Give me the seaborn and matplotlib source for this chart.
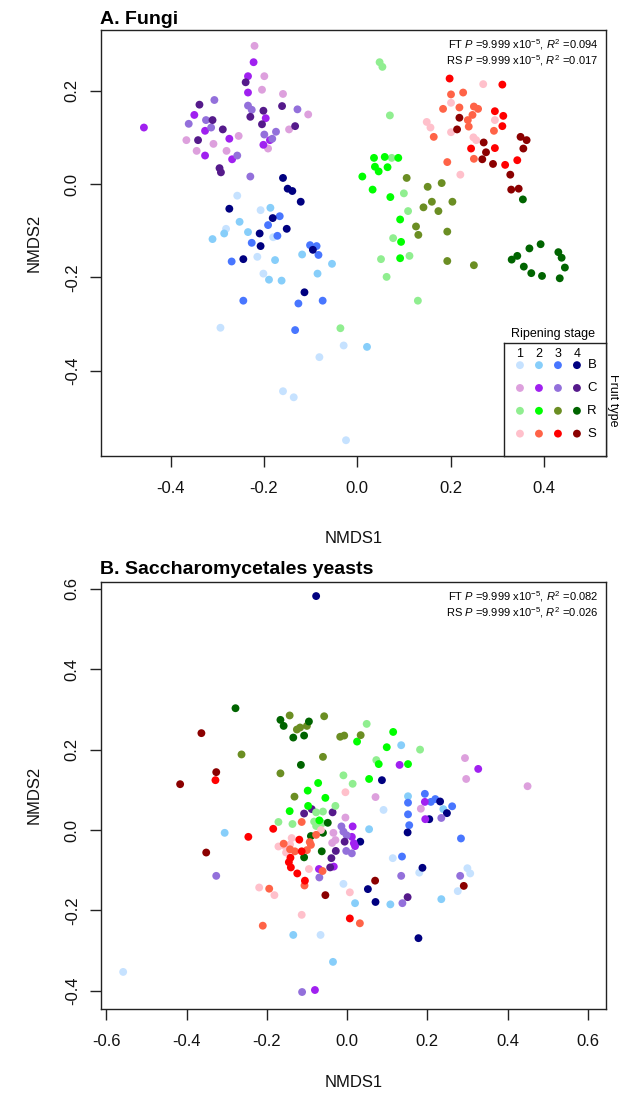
import matplotlib
matplotlib.use("Agg")
import matplotlib.pyplot as plt
import seaborn as sns
import pandas as pd

plt.rcParams['font.family'] = ['Liberation Sans', 'DejaVu Sans']
plt.rcParams['mathtext.fontset'] = 'custom'
plt.rcParams['mathtext.rm'] = 'Liberation Sans'
plt.rcParams['mathtext.it'] = 'Liberation Sans:italic'
plt.rcParams['axes.unicode_minus'] = False

fruit_types = ['B', 'C', 'R', 'S']
stages = [1, 2, 3, 4]
palette_colors = {
    'B': ['#C6E2FF', '#87CEFA', '#4876FF', '#000080'],
    'C': ['#DDA0DD', '#A020F0', '#9370DB', '#551A8B'],
    'R': ['#90EE90', '#00FF00', '#6B8E23', '#006400'],
    'S': ['#FFC0CB', '#FF6347', '#FF0000', '#8B0000'],
}

# ---------------- Panel A: Fungi ----------------
fungi_B1_x = [-0.257, -0.207, -0.281, -0.180, -0.214, -0.201, -0.293, -0.029, -0.081, -0.159, -0.136, -0.024]
fungi_B1_y = [-0.025, -0.056, -0.096, -0.114, -0.156, -0.192, -0.308, -0.346, -0.371, -0.444, -0.457, -0.549]
fungi_B2_x = [-0.186, -0.252, -0.285, -0.310, -0.234, -0.176, -0.118, -0.054, -0.085, -0.189, -0.162, 0.021]
fungi_B2_y = [-0.051, -0.081, -0.106, -0.118, -0.103, -0.163, -0.151, -0.171, -0.192, -0.205, -0.207, -0.349]
fungi_B3_x = [-0.166, -0.191, -0.171, -0.226, -0.269, -0.101, -0.087, -0.083, -0.244, -0.126, -0.074, -0.133]
fungi_B3_y = [-0.069, -0.088, -0.111, -0.126, -0.166, -0.131, -0.133, -0.152, -0.250, -0.256, -0.250, -0.313]
fungi_B4_x = [-0.159, -0.149, -0.139, -0.121, -0.274, -0.181, -0.151, -0.209, -0.207, -0.244, -0.095, -0.113]
fungi_B4_y = [0.013, -0.010, -0.015, -0.038, -0.053, -0.073, -0.096, -0.106, -0.133, -0.161, -0.141, -0.232]
fungi_C1_x = [-0.220, -0.199, -0.204, -0.159, -0.105, -0.146, -0.191, -0.366, -0.308, -0.254, -0.344, -0.280]
fungi_C1_y = [0.296, 0.231, 0.202, 0.193, 0.149, 0.117, 0.076, 0.094, 0.086, 0.103, 0.071, 0.071]
fungi_C2_x = [-0.222, -0.234, -0.234, -0.349, -0.326, -0.457, -0.196, -0.187, -0.201, -0.274, -0.326, -0.268]
fungi_C2_y = [0.261, 0.231, 0.196, 0.148, 0.114, 0.121, 0.141, 0.094, 0.084, 0.097, 0.061, 0.053]
fungi_C3_x = [-0.306, -0.324, -0.361, -0.313, -0.234, -0.226, -0.128, -0.174, -0.199, -0.182, -0.257, -0.229]
fungi_C3_y = [0.180, 0.137, 0.129, 0.121, 0.168, 0.159, 0.160, 0.112, 0.106, 0.097, 0.061, 0.016]
fungi_C4_x = [-0.239, -0.338, -0.310, -0.288, -0.201, -0.161, -0.229, -0.204, -0.133, -0.341, -0.295, -0.292]
fungi_C4_y = [0.218, 0.170, 0.137, 0.117, 0.157, 0.167, 0.144, 0.128, 0.124, 0.094, 0.034, 0.025]
fungi_R1_x = [0.048, 0.054, 0.070, 0.074, 0.100, 0.109, 0.077, 0.112, 0.051, 0.063, 0.130, -0.036]
fungi_R1_y = [0.261, 0.251, 0.147, 0.056, -0.020, -0.058, -0.116, -0.154, -0.161, -0.199, -0.250, -0.309]
fungi_R2_x = [0.036, 0.059, 0.088, 0.038, 0.046, 0.065, 0.011, 0.033, 0.071, 0.092, 0.094, 0.092]
fungi_R2_y = [0.056, 0.058, 0.056, 0.037, 0.027, 0.036, 0.016, -0.012, -0.028, -0.076, -0.124, -0.159]
fungi_R3_x = [0.106, 0.151, 0.181, 0.160, 0.142, 0.174, 0.204, 0.126, 0.131, 0.193, 0.193, 0.250]
fungi_R3_y = [0.013, -0.006, 0.002, -0.038, -0.050, -0.058, -0.038, -0.091, -0.109, -0.102, -0.165, -0.174]
fungi_R4_x = [0.355, 0.331, 0.343, 0.369, 0.393, 0.431, 0.438, 0.445, 0.357, 0.373, 0.396, 0.434]
fungi_R4_y = [-0.033, -0.162, -0.154, -0.138, -0.129, -0.146, -0.158, -0.179, -0.177, -0.191, -0.197, -0.202]
fungi_S1_x = [0.270, 0.201, 0.295, 0.149, 0.157, 0.201, 0.249, 0.255, 0.221]
fungi_S1_y = [0.214, 0.174, 0.137, 0.133, 0.121, 0.111, 0.100, 0.094, 0.020]
fungi_S2_x = [0.201, 0.227, 0.184, 0.219, 0.250, 0.259, 0.247, 0.237, 0.239, 0.293, 0.164, 0.250, 0.193]
fungi_S2_y = [0.192, 0.196, 0.161, 0.164, 0.166, 0.161, 0.148, 0.137, 0.123, 0.114, 0.101, 0.054, 0.047]
fungi_S3_x = [0.198, 0.311, 0.295, 0.313, 0.311, 0.244, 0.295, 0.317, 0.343]
fungi_S3_y = [0.226, 0.213, 0.156, 0.146, 0.124, 0.076, 0.077, 0.041, 0.051]
fungi_S4_x = [0.219, 0.214, 0.271, 0.276, 0.268, 0.291, 0.350, 0.363, 0.356, 0.328, 0.330, 0.346]
fungi_S4_y = [0.142, 0.117, 0.089, 0.068, 0.053, 0.043, 0.101, 0.094, 0.076, 0.020, -0.012, -0.010]

# ---------------- Panel B: Saccharomycetales yeasts ----------------
yeast_B1_x = [-0.558, -0.066, -0.009, 0.091, 0.114, 0.180, 0.300, 0.307, 0.276]
yeast_B1_y = [-0.353, -0.261, -0.134, 0.050, -0.070, -0.106, -0.095, -0.108, -0.152]
yeast_B2_x = [-0.305, 0.020, -0.134, 0.135, 0.152, 0.240, 0.055, 0.235, 0.108, -0.035]
yeast_B2_y = [-0.007, -0.182, -0.261, 0.211, 0.084, 0.052, 0.002, -0.172, -0.185, -0.328]
yeast_B3_x = [0.194, 0.152, 0.209, 0.220, 0.262, 0.152, 0.155, 0.284, 0.137]
yeast_B3_y = [0.090, 0.068, 0.070, 0.077, 0.059, 0.039, 0.012, -0.021, -0.066]
yeast_B4_x = [-0.077, 0.087, 0.232, 0.249, 0.205, 0.151, 0.033, 0.188, 0.052, 0.071, 0.178]
yeast_B4_y = [0.582, 0.124, 0.071, 0.042, 0.027, -0.006, -0.029, -0.094, -0.147, -0.179, -0.269]
yeast_C1_x = [0.294, 0.297, 0.450, 0.071, 0.184, -0.004, -0.034, -0.029, -0.037]
yeast_C1_y = [0.179, 0.127, 0.109, 0.082, 0.053, 0.031, -0.007, -0.025, -0.032]
yeast_C2_x = [0.131, 0.327, 0.194, 0.195, 0.014, 0.012, 0.017, 0.020, -0.070, -0.033, -0.080]
yeast_C2_y = [0.162, 0.152, 0.070, 0.027, 0.009, -0.017, -0.033, -0.040, -0.097, -0.091, -0.398]
yeast_C3_x = [-0.326, -0.014, -0.009, -0.001, -0.002, 0.012, -0.069, 0.235, 0.135, 0.282, 0.138, -0.112]
yeast_C3_y = [-0.114, 0.009, -0.004, -0.013, -0.052, -0.058, -0.118, 0.030, -0.114, -0.114, -0.182, -0.403]
yeast_C4_x = [-0.107, -0.088, -0.036, -0.006, -0.028, -0.039, -0.042, 0.151]
yeast_C4_y = [0.041, 0.052, 0.044, -0.029, -0.052, -0.070, -0.093, -0.167]
yeast_R1_x = [0.049, 0.182, 0.073, -0.009, 0.014, -0.029, -0.077, -0.060, -0.171, -0.136, -0.082, -0.077, -0.062]
yeast_R1_y = [0.264, 0.200, 0.174, 0.136, 0.115, 0.060, 0.044, 0.046, 0.020, 0.015, 0.021, 0.010, 0.017]
yeast_R2_x = [0.025, 0.115, 0.099, 0.079, 0.152, 0.055, -0.072, -0.098, -0.054, -0.143, -0.097, -0.069]
yeast_R2_y = [0.220, 0.244, 0.206, 0.164, 0.164, 0.127, 0.117, 0.098, 0.080, 0.047, 0.060, 0.024]
yeast_R3_x = [-0.143, -0.125, -0.117, -0.100, -0.057, -0.017, -0.007, 0.034, -0.263, -0.060, -0.166, -0.131]
yeast_R3_y = [0.285, 0.250, 0.255, 0.259, 0.283, 0.232, 0.235, 0.236, 0.188, 0.182, 0.141, 0.083]
yeast_R4_x = [-0.278, -0.166, -0.158, -0.095, -0.134, -0.107, -0.115, -0.048, -0.090, -0.060, -0.063, -0.107]
yeast_R4_y = [0.303, 0.274, 0.259, 0.270, 0.230, 0.235, 0.162, 0.018, -0.015, -0.007, -0.053, -0.068]
yeast_S1_x = [-0.004, -0.065, -0.138, -0.171, -0.155, -0.142, -0.152, -0.095, -0.219, -0.181, 0.007, -0.113]
yeast_S1_y = [0.094, 0.000, -0.020, -0.041, -0.040, -0.036, -0.056, -0.097, -0.143, -0.162, -0.155, -0.211]
yeast_S2_x = [-0.113, -0.077, -0.158, -0.093, -0.090, -0.100, -0.142, -0.130, -0.061, -0.106, -0.194, -0.210, 0.032]
yeast_S2_y = [0.020, -0.012, -0.034, -0.030, -0.037, -0.050, -0.048, -0.053, -0.102, -0.138, -0.146, -0.238, -0.232]
yeast_S3_x = [-0.328, -0.246, -0.184, -0.119, -0.113, -0.141, -0.145, -0.140, -0.124, -0.105, 0.007]
yeast_S3_y = [0.124, -0.017, 0.003, -0.024, -0.053, -0.069, -0.080, -0.093, -0.108, -0.126, -0.220]
yeast_S4_x = [-0.363, -0.326, -0.416, -0.351, -0.054, 0.070, 0.291]
yeast_S4_y = [0.241, 0.144, 0.114, -0.056, -0.162, -0.126, -0.139]

fungi_ticks_x = [-0.4, -0.2, 0.0, 0.2, 0.4]
fungi_ticks_y = [-0.4, -0.2, 0.0, 0.2]
yeast_ticks_x = [-0.6, -0.4, -0.2, 0.0, 0.2, 0.4, 0.6]
yeast_ticks_y = [-0.4, -0.2, 0.0, 0.2, 0.4, 0.6]

fungi_stats = ["FT $P$ =9.999 x10$^{-5}$, $R^2$ =0.094",
               "RS $P$ =9.999 x10$^{-5}$, $R^2$ =0.017"]
yeast_stats = ["FT $P$ =9.999 x10$^{-5}$, $R^2$ =0.082",
               "RS $P$ =9.999 x10$^{-5}$, $R^2$ =0.026"]

g = globals()


def build_df(prefix):
    rows = []
    for ft in fruit_types:
        for st in stages:
            xs = g[f"{prefix}_{ft}{st}_x"]
            ys = g[f"{prefix}_{ft}{st}_y"]
            for x, y in zip(xs, ys):
                rows.append({'NMDS1': x, 'NMDS2': y, 'group': f"{ft}{st}"})
    return pd.DataFrame(rows)


palette = {f"{ft}{st}": palette_colors[ft][st - 1] for ft in fruit_types for st in stages}

W, H = 619, 1096
fig = plt.figure(figsize=(W / 100, H / 100), dpi=100)


def fx(px):
    return px / W


def fy(py):
    return 1 - py / H


def style_axes(ax, xt, yt, xlabelpad):
    ax.set_xticks(xt)
    ax.set_yticks(yt)
    ax.set_xticklabels([f"{t:.1f}" for t in xt])
    ax.set_yticklabels([f"{t:.1f}" for t in yt], rotation=90, va='center')
    ax.tick_params(direction='out', length=8, width=1, colors='#222222',
                   labelsize=12, labelcolor='#111111')
    ax.tick_params(axis='x', pad=10)
    ax.tick_params(axis='y', pad=7)
    for sp in ax.spines.values():
        sp.set_color('#222222')
        sp.set_linewidth(1.0)
    ax.set_xlabel('NMDS1', fontsize=12, labelpad=xlabelpad, color='#111111')
    ax.set_ylabel('NMDS2', fontsize=12, labelpad=17, color='#111111')


def add_stats(ax, lines):
    ax.text(0.985, 0.966, lines[0], transform=ax.transAxes, ha='right', va='center', fontsize=8)
    ax.text(0.985, 0.929, lines[1], transform=ax.transAxes, ha='right', va='center', fontsize=8)


left, right = 100.7, 606.0

# Panel A
axA = fig.add_axes([fx(left), fy(456), fx(right - left), (456 - 30) / H])
dfA = build_df('fungi')
sns.scatterplot(data=dfA, x='NMDS1', y='NMDS2', hue='group', palette=palette,
                s=32, linewidth=0, legend=False, ax=axA)
axA.set_xlim(-0.5496, 0.5331)
axA.set_ylim(-0.5828, 0.33)
style_axes(axA, fungi_ticks_x, fungi_ticks_y, 25)
fig.text(fx(100), fy(19), 'A. Fungi', fontsize=14, fontweight='bold', va='center', ha='left')
add_stats(axA, fungi_stats)

# Legend inset (panel A)
axL = fig.add_axes([fx(504), fy(456), fx(606 - 504), (456 - 343) / H])
leg_rows = []
for i, ft in enumerate(fruit_types):
    for st in stages:
        leg_rows.append({'stage': st, 'row': i, 'group': f"{ft}{st}"})
dfL = pd.DataFrame(leg_rows)
sns.scatterplot(data=dfL, x='stage', y='row', hue='group', palette=palette,
                s=32, linewidth=0, legend=False, ax=axL)
axL.set_xlim(0.16, 5.53)
axL.set_ylim(3.98, -0.97)
axL.set_xticks([])
axL.set_yticks([])
axL.set_xlabel('')
axL.set_ylabel('')
for sp in axL.spines.values():
    sp.set_color('#222222')
    sp.set_linewidth(1.0)
for st in stages:
    axL.text(st, -0.5, str(st), ha='center', va='center', fontsize=9)
for i, ft in enumerate(fruit_types):
    axL.text(4.8, i, ft, ha='center', va='center', fontsize=9.5)
fig.text(fx(553), fy(334), 'Ripening stage', ha='center', va='center', fontsize=9)
fig.text(fx(613), fy(400), 'Fruit type', ha='center', va='center', fontsize=9, rotation=270)

# Panel B
axB = fig.add_axes([fx(left), fy(1008.7), fx(right - left), (1008.7 - 582) / H])
dfB = build_df('yeast')
sns.scatterplot(data=dfB, x='NMDS1', y='NMDS2', hue='group', palette=palette,
                s=32, linewidth=0, legend=False, ax=axB)
axB.set_xlim(-0.614, 0.6455)
axB.set_ylim(-0.4445, 0.617)
style_axes(axB, yeast_ticks_x, yeast_ticks_y, 19)
fig.text(fx(100), fy(570), 'B. Saccharomycetales yeasts', fontsize=14, fontweight='bold', va='center', ha='left')
add_stats(axB, yeast_stats)

fig.savefig('out.png', dpi=100, facecolor='white')
